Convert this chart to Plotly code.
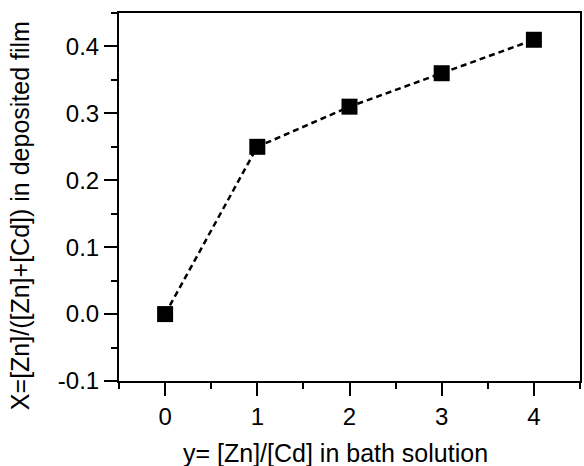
import plotly.graph_objects as go

# Zn/Cd ratio in bath vs. Zn fraction in deposited film
bath_ratio = [0, 1, 2, 3, 4]
film_fraction = [0.0, 0.25, 0.31, 0.36, 0.41]

x_ticks = [0, 1, 2, 3, 4]
y_ticks = [-0.1, 0.0, 0.1, 0.2, 0.3, 0.4]

x_title = "y= [Zn]/[Cd] in bath solution"
y_title = "X=[Zn]/([Zn]+[Cd]) in deposited film"

font_family = "Liberation Sans, Arial, sans-serif"
tick_size = 24
title_size = 25

fig = go.Figure(
    go.Scatter(
        x=bath_ratio,
        y=film_fraction,
        mode="lines+markers",
        line=dict(color="black", width=2.5, dash="6px,4px"),
        marker=dict(symbol="square", size=16, color="black"),
        showlegend=False,
    )
)

axis_common = dict(
    showgrid=False,
    zeroline=False,
    showline=True,
    linecolor="black",
    linewidth=2,
    mirror=True,
    ticks="outside",
    ticklen=13,
    tickwidth=2,
    tickcolor="black",
    tickfont=dict(family=font_family, size=tick_size, color="black"),
)

fig.update_xaxes(
    range=[-0.5, 4.5],
    tickvals=x_ticks,
    ticktext=[str(v) for v in x_ticks],
    minor=dict(ticks="outside", ticklen=6, tickwidth=2, tickcolor="black", dtick=0.5, tick0=-0.5),
    **axis_common,
)
fig.update_yaxes(
    range=[-0.1, 0.45],
    tickvals=y_ticks,
    ticktext=[f"{v:.1f}" for v in y_ticks],
    minor=dict(ticks="outside", ticklen=6, tickwidth=2, tickcolor="black", dtick=0.05, tick0=-0.1),
    **axis_common,
)

title_font = dict(family=font_family, size=title_size, color="black")
fig.add_annotation(
    text=x_title, xref="paper", yref="paper", x=0.469, y=0,
    xanchor="center", yanchor="middle", yshift=-72,
    showarrow=False, font=title_font,
)
fig.add_annotation(
    text=y_title, xref="paper", yref="paper", x=0, y=0.448,
    xanchor="center", yanchor="middle", xshift=-99, textangle=-90,
    showarrow=False, font=title_font,
)

fig.update_layout(
    width=584,
    height=466,
    margin=dict(l=119, r=2, t=13, b=85),
    paper_bgcolor="white",
    plot_bgcolor="white",
    font=dict(family=font_family, size=tick_size, color="black"),
)

fig.write_html("out.html")
